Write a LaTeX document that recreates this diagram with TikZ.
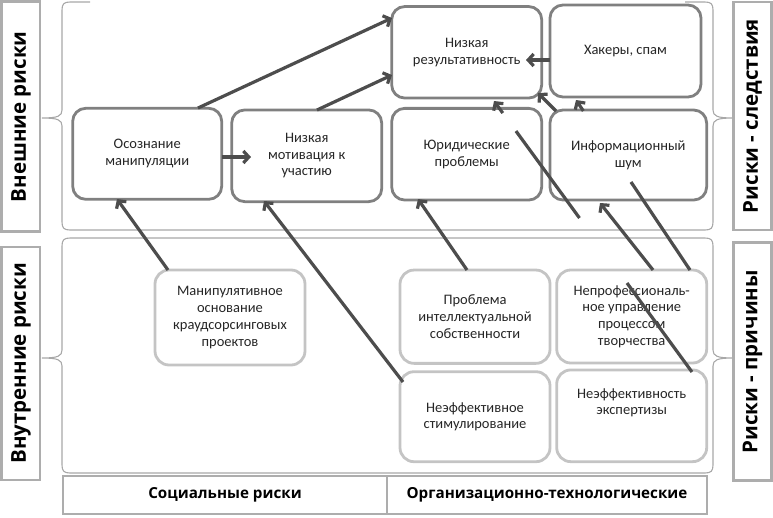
\documentclass[tikz,border=0pt]{standalone}
\usepackage{fontspec}
\setmainfont{Carlito}
\newfontfamily\labfont{Open Sans}
\usetikzlibrary{arrows.meta,calc}
\definecolor{dkbox}{HTML}{808080}
\definecolor{ltbox}{HTML}{C4C4C4}
\definecolor{lblbox}{HTML}{ADADAD}
\definecolor{arr}{HTML}{4D4D4D}
\definecolor{brc}{HTML}{A8A8A8}
\definecolor{txt}{HTML}{262626}
\tikzset{
  upbox/.style={draw=dkbox, line width=2.8pt, rounded corners=13pt, fill=white, align=center, text=txt,
    font=\fontsize{14.5}{16.7}\selectfont, inner sep=2pt},
  lobox/.style={upbox, draw=ltbox, rounded corners=14pt},
  lblv/.style={draw=lblbox, line width=2.6pt, fill=white, rotate=90, inner sep=0pt,
    font=\labfont\bfseries\fontsize{20.5}{22}\selectfont},
  lblh/.style={draw=lblbox, line width=2.6pt, fill=white, inner sep=0pt,
    font=\labfont\bfseries\fontsize{15.2}{18}\selectfont},
  conn/.style={draw=arr, line width=3.2pt, -{Straight Barb[length=5.5pt,width=12pt]}},
  bracel/.style={draw=brc, line width=1.1pt}
}
\begin{document}
\begin{tikzpicture}[x=1pt,y=-1pt]
\useasboundingbox (0,0) rectangle (773,517);
% braces
\draw[bracel] (90,2) -- (70,2) .. controls (64,2) and (62,4) .. (62,10) -- (62,110)
  .. controls (62,116) and (58,118) .. (42,118) .. controls (58,118) and (62,120) .. (62,126)
  -- (62,222) .. controls (62,228) and (64,230) .. (70,230) -- (705,230)
  .. controls (711,230) and (713,228) .. (713,222) -- (713,126)
  .. controls (713,120) and (717,118) .. (733,118) .. controls (717,118) and (713,116) .. (713,110)
  -- (713,10) .. controls (713,4) and (711,2) .. (705,2) -- (685,2);
\draw[bracel] (70,238) -- (705,238) .. controls (711,238) and (713,240) .. (713,246) -- (713,350)
  .. controls (713,356) and (717,358) .. (733,358) .. controls (717,358) and (713,360) .. (713,366)
  -- (713,465) .. controls (713,471) and (711,473) .. (705,473) -- (70,473)
  .. controls (64,473) and (62,471) .. (62,465) -- (62,366)
  .. controls (62,360) and (58,358) .. (42,358) .. controls (58,358) and (62,356) .. (62,350)
  -- (62,246) .. controls (62,240) and (64,238) .. (70,238);
% side labels
\node[lblv, minimum width=230pt, minimum height=38.3pt] (lup) at (20.9,116.7) {Внешние риски};
\node[lblv, minimum width=233pt, minimum height=38.3pt] (llo) at (20.9,363.3) {Внутренние риски};
\node[lblv, minimum width=228pt, minimum height=38.3pt] (rup) at (752.5,116) {Риски - следствия};
\node[lblv, minimum width=238pt, minimum height=38.3pt] (rlo) at (752.5,361.7) {Риски - причины};
\node[lblh, minimum width=324pt, minimum height=38pt] (soc) at (225,495) {Социальные риски};
\node[lblh, minimum width=320pt, minimum height=38pt] (org) at (547,495) {Организационно-технологические};
% upper boxes
\node[upbox, minimum width=150pt, minimum height=91.5pt] (rez) at (466.7,52.3) {Низкая\\результативность};
\node[upbox, minimum width=151pt, minimum height=92pt] (hak) at (625.5,51) {Хакеры, спам};
\node[upbox, minimum width=149pt, minimum height=91pt] (osoz) at (147.2,153.8) {Осознание\\манипуляции};
\node[upbox, minimum width=150pt, minimum height=91.7pt] (motiv) at (306.7,155.8) {Низкая\\мотивация к\\участию};
\node[upbox, minimum width=150pt, minimum height=91.7pt] (yur) at (466.7,154.2) {Юридические\\проблемы};
\node[upbox, minimum width=156.7pt, minimum height=90pt] (info) at (628.3,155) {Информационный\\шум};
% lower boxes
\node[lobox, minimum width=150pt, minimum height=95pt] (manip) at (230,317.5) {Манипулятивное\\основание\\краудсорсинговых\\проектов};
\node[lobox, minimum width=150pt, minimum height=93.3pt] (probl) at (475,316.7) {Проблема\\интеллектуальной\\собственности};
\node[lobox, minimum width=150pt, minimum height=93pt] (neprof) at (631.7,316.5) {Непрофессиональ-\\ное управление\\процессом\\творчества};
\node[lobox, minimum width=150pt, minimum height=90pt] (stim) at (475,416.7) {Неэффективное\\стимулирование};
\node[lobox, minimum width=150pt, minimum height=91.7pt] (eksp) at (631.7,415.8) {};
\node[align=center, text=txt, font=\fontsize{14.5}{16.7}\selectfont, inner sep=0pt] (eksptxt) at ($(eksp.center)+(0,-13)$) {Неэффективность\\экспертизы};
% connectors
\draw[conn] ($(osoz.center)+(50.8,-45.8)$) -- ($(rez.center)+(-74.7,-34.3)$);
\draw[conn] ($(motiv.center)+(10.3,-45.8)$) -- ($(rez.center)+(-74.7,22.7)$);
\draw[conn] ($(osoz.center)+(74.8,3.2)$) -- ($(motiv.center)+(-55.7,1.2)$);
\draw[conn] ($(hak.center)+(-75.5,9)$) -- ($(rez.center)+(59.3,7.7)$);
\draw[conn] ($(info.center)+(-72.3,-44)$) -- ($(rez.center)+(71.3,40.7)$);
\draw[conn, dash pattern=on 110.2pt off 80.5pt on 107.7pt off 22.3pt on 200pt] ($(eksp.center)+(60.3,-43.8)$) -- ($(rez.center)+(27.3,48.7)$);
\draw[conn, dash pattern=on 106pt off 85.5pt on 200pt] ($(neprof.center)+(58.3,-46.5)$) -- ($(hak.center)+(-49.5,49)$);
\draw[conn] ($(neprof.center)+(21.3,-46.5)$) -- ($(info.center)+(-28.3,48)$);
\draw[conn] ($(probl.center)+(-8,-46.7)$) -- ($(yur.center)+(-48.7,44.8)$);
\draw[conn] ($(stim.center)+(-72,-34.7)$) -- ($(motiv.center)+(-42.7,45.2)$);
\draw[conn] ($(manip.center)+(-62,-47.5)$) -- ($(osoz.center)+(-30.2,45.2)$);
\end{tikzpicture}
\end{document}
